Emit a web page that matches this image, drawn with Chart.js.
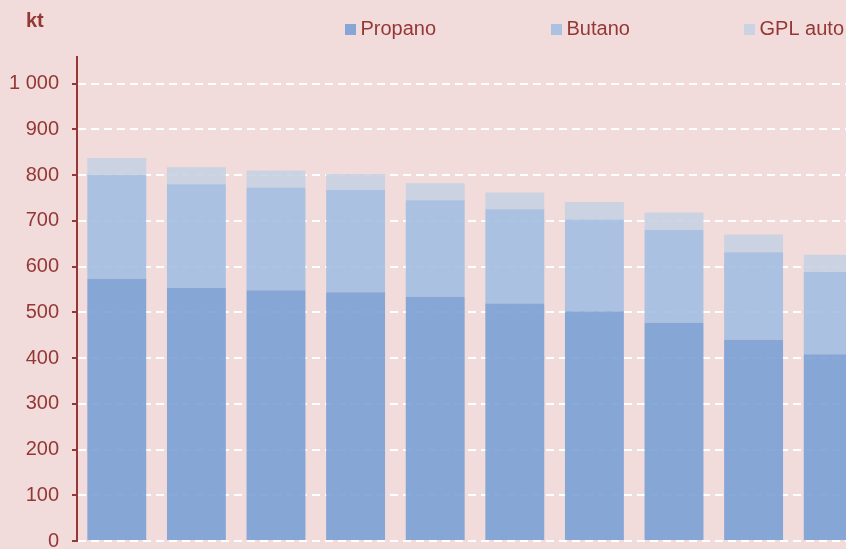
<!DOCTYPE html>
<html>
<head>
<meta charset="utf-8">
<script src="https://cdn.jsdelivr.net/npm/chart.js@4/dist/chart.umd.min.js"></script>
<style>
  html, body { margin: 0; padding: 0; background: #f2dcdb; overflow: hidden; }
  #box { width: 846px; height: 549px; overflow: hidden; position: relative; }
  canvas { position: absolute; left: 0; top: 0; }
</style>
</head>
<body>
<div id="box"><canvas id="chart" width="900" height="566"></canvas></div>
<script>
// categories are below the visible area in the reference
const years = ["2005", "2006", "2007", "2008", "2009", "2010", "2011", "2012", "2013", "2014"]
const propano = [573, 553, 548, 544, 534, 519, 502, 477, 440, 408]
const butano = [227, 227, 225, 223, 211, 206, 201, 203, 191, 180]
const gplAuto = [37, 37, 37, 35, 37, 37, 38, 38, 39, 38]
const yTicks = [0, 100, 200, 300, 400, 500, 600, 700, 800, 900, 1000]
const unit = "kt"

const red = "#953735"
const font = "Liberation Sans, Arial, sans-serif"

// legend sits in the same band as the unit label, so draw both by hand
const topTexts = {
  id: "topTexts",
  afterDraw(chart) {
    const ctx = chart.ctx
    ctx.save()
    ctx.fillStyle = red
    ctx.font = "bold 20px " + font
    ctx.textBaseline = "alphabetic"
    ctx.fillText(unit, 26, 27)
    const xs = [345, 551, 744]
    ctx.font = "20px " + font
    chart.data.datasets.forEach((ds, i) => {
      ctx.fillStyle = ds.backgroundColor
      ctx.fillRect(xs[i], 24, 11, 11)
      ctx.fillStyle = red
      ctx.fillText(ds.label, xs[i] + 15.5, 34.5)
    })
    ctx.restore()
  }
}

new Chart(document.getElementById("chart"), {
  type: "bar",
  data: {
    labels: years,
    datasets: [
      { label: "Propano", data: propano, backgroundColor: "rgba(118,158,213,0.88)" },
      { label: "Butano", data: butano, backgroundColor: "rgba(161,189,225,0.88)" },
      { label: "GPL auto", data: gplAuto, backgroundColor: "rgba(197,208,225,0.88)" },
    ]
  },
  options: {
    responsive: false,
    animation: false,
    layout: { padding: { top: 57, bottom: 9, right: 27, left: 0 } },
    datasets: { bar: { barPercentage: 0.74, categoryPercentage: 1 } },
    plugins: {
      legend: { display: false },
      tooltip: { enabled: false }
    },
    scales: {
      x: { stacked: true, display: false },
      y: {
        stacked: true,
        min: 0,
        max: 1058,
        afterFit: (s) => { s.width = 77 },
        afterBuildTicks: (s) => { s.ticks = yTicks.map(v => ({ value: v })) },
        border: { display: true, color: red, width: 2, dash: [8, 5] },
        grid: {
          color: "#ffffff",
          lineWidth: 2,
          drawTicks: true,
          tickLength: 5,
          tickColor: red,
          tickWidth: 2,
          tickBorderDash: []
        },
        ticks: {
          includeBounds: false,
          padding: 13,
          color: red,
          font: { family: font, size: 20 },
          callback: (v) => String(v).replace(/\B(?=(\d{3})+(?!\d))/g, " ")
        }
      }
    }
  },
  plugins: [topTexts]
})
</script>
</body>
</html>
